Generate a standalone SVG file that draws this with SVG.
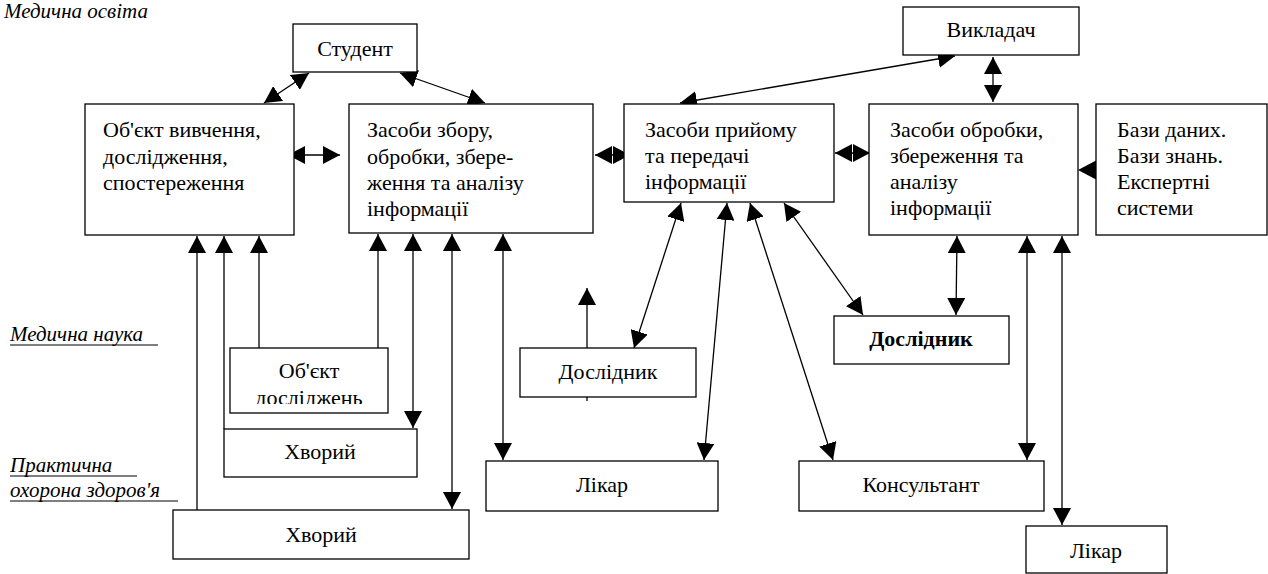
<svg xmlns="http://www.w3.org/2000/svg" width="1268" height="574" viewBox="0 0 1268 574">
  <style>
    .box { fill: #fff; stroke: #000; stroke-width: 1.3; }
    .t { font-size: 22px; fill: #000; }
    .c { text-anchor: middle; }
    .b { font-weight: bold; }
    .lbl { font-size: 21px; font-style: italic; fill: #000; }
    .ul { stroke: #000; stroke-width: 1.2; }
    .ln { fill: none; stroke: #000; stroke-width: 1.3; }
    .one { marker-end: url(#ah); }
    .two { marker-start: url(#ah); marker-end: url(#ah); }
  </style>
  <defs>
    <marker id="ah" viewBox="0 0 17 18" refX="17" refY="9" markerWidth="17" markerHeight="18" markerUnits="userSpaceOnUse" orient="auto-start-reverse">
      <path d="M0,0 L17,9 L0,18 z" fill="#000"/>
    </marker>
  </defs>
  <rect width="1268" height="574" fill="#fff"/>

  <!-- section labels, underlines drawn as rules -->
  <g id="labels">
    <text class="lbl" x="4" y="18" font-family="Liberation Serif">Медична освіта</text>
    <text class="lbl" x="10" y="341" font-family="Liberation Serif">Медична наука</text>
    <line class="ul" x1="10" y1="345" x2="158" y2="345"/>
    <text class="lbl" x="10" y="472" font-family="Liberation Serif">Практична</text>
    <line class="ul" x1="10" y1="476" x2="137" y2="476"/>
    <text class="lbl" x="10" y="497" font-family="Liberation Serif">охорона здоров'я</text>
    <line class="ul" x1="10" y1="501" x2="178" y2="501"/>
  </g>

  <!-- connectors -->
  <g id="connectors">
    <line class="ln two" x1="309" y1="73" x2="264" y2="103"/>
    <line class="ln two" x1="400" y1="73" x2="485" y2="103"/>
    <line class="ln two" x1="288" y1="155" x2="340" y2="155"/>
    <line class="ln two" x1="595" y1="155" x2="630" y2="155"/>
    <line class="ln two" x1="835" y1="153" x2="870" y2="153"/>
    <line class="ln two" x1="955" y1="56" x2="680" y2="103"/>
    <line class="ln two" x1="993" y1="57" x2="993" y2="102"/>
    <line class="ln" x1="1096" y1="170" x2="1088" y2="170"/>
    <path d="M1078,170 L1097,160 L1097,180 z" fill="#000"/>

    <line class="ln one" x1="197" y1="517" x2="197" y2="236"/>
    <line class="ln one" x1="224" y1="429" x2="224" y2="236"/>
    <line class="ln one" x1="259" y1="348" x2="259" y2="236"/>

    <line class="ln one" x1="378" y1="355" x2="378" y2="234"/>
    <line class="ln two" x1="413" y1="234" x2="413" y2="428"/>
    <line class="ln two" x1="452" y1="234" x2="452" y2="509"/>
    <line class="ln two" x1="503" y1="234" x2="503" y2="460"/>

    <line class="ln one" x1="587" y1="348" x2="587" y2="288"/>
    <line class="ln" x1="587" y1="397" x2="587" y2="401"/>

    <line class="ln two" x1="681" y1="203" x2="634" y2="348"/>
    <line class="ln two" x1="727" y1="203" x2="704" y2="460"/>
    <line class="ln two" x1="750" y1="203" x2="833" y2="460"/>
    <line class="ln two" x1="784" y1="203" x2="863" y2="315"/>

    <line class="ln two" x1="957" y1="236" x2="956" y2="315"/>
    <line class="ln two" x1="1027" y1="236" x2="1027" y2="460"/>
    <line class="ln two" x1="1062" y1="236" x2="1062" y2="525"/>
  </g>

  <!-- nodes -->
  <g id="student">
    <rect class="box" x="293" y="24" width="124" height="48"/>
    <text class="t c" x="355" y="56" font-family="Liberation Serif">Студент</text>
  </g>
  <g id="teacher">
    <rect class="box" x="903" y="7" width="176" height="48"/>
    <text class="t c" x="991" y="37" font-family="Liberation Serif">Викладач</text>
  </g>
  <g id="object-study">
    <rect class="box" x="85" y="104" width="209" height="131"/>
    <text class="t" x="103" y="137" font-family="Liberation Serif">Об'єкт вивчення,</text>
    <text class="t" x="103" y="164" font-family="Liberation Serif">дослідження,</text>
    <text class="t" x="103" y="190" font-family="Liberation Serif">спостереження</text>
  </g>
  <g id="collect">
    <rect class="box" x="349" y="104" width="244" height="129"/>
    <text class="t" x="367" y="137" font-family="Liberation Serif">Засоби збору,</text>
    <text class="t" x="367" y="164" font-family="Liberation Serif">обробки, збере-</text>
    <text class="t" x="367" y="190" font-family="Liberation Serif">ження та аналізу</text>
    <text class="t" x="367" y="216" font-family="Liberation Serif">інформації</text>
  </g>
  <g id="transfer">
    <rect class="box" x="624" y="104" width="210" height="98"/>
    <text class="t" x="645" y="137" font-family="Liberation Serif">Засоби прийому</text>
    <text class="t" x="645" y="163" font-family="Liberation Serif">та передачі</text>
    <text class="t" x="645" y="189" font-family="Liberation Serif">інформації</text>
  </g>
  <g id="process">
    <rect class="box" x="869" y="104" width="209" height="131"/>
    <text class="t" x="890" y="137" font-family="Liberation Serif">Засоби обробки,</text>
    <text class="t" x="890" y="163" font-family="Liberation Serif">збереження та</text>
    <text class="t" x="890" y="189" font-family="Liberation Serif">аналізу</text>
    <text class="t" x="890" y="215" font-family="Liberation Serif">інформації</text>
  </g>
  <g id="databases">
    <rect class="box" x="1096" y="104" width="171" height="131"/>
    <text class="t" x="1117" y="137" font-family="Liberation Serif">Бази даних.</text>
    <text class="t" x="1117" y="163" font-family="Liberation Serif">Бази знань.</text>
    <text class="t" x="1117" y="189" font-family="Liberation Serif">Експертні</text>
    <text class="t" x="1117" y="215" font-family="Liberation Serif">системи</text>
  </g>
  <g id="object-research">
    <rect class="box" x="230" y="348" width="158" height="65"/>
    <!-- inner viewport cuts the second line at its baseline -->
    <svg x="230" y="348" width="158" height="56" overflow="hidden">
      <text class="t c" x="79" y="30" font-family="Liberation Serif">Об'єкт</text>
      <text class="t c" x="79" y="57" font-family="Liberation Serif">досліджень</text>
    </svg>
  </g>
  <g id="patient-1">
    <rect class="box" x="224" y="429" width="193" height="48"/>
    <text class="t c" x="320" y="459" font-family="Liberation Serif">Хворий</text>
  </g>
  <g id="patient-2">
    <rect class="box" x="173" y="510" width="296" height="49"/>
    <text class="t c" x="321" y="542" font-family="Liberation Serif">Хворий</text>
  </g>
  <g id="researcher-1">
    <rect class="box" x="520" y="348" width="176" height="49"/>
    <text class="t c" x="608" y="379" font-family="Liberation Serif">Дослідник</text>
  </g>
  <g id="doctor-1">
    <rect class="box" x="486" y="461" width="232" height="50"/>
    <text class="t c" x="602" y="492" font-family="Liberation Serif">Лікар</text>
  </g>
  <g id="researcher-2">
    <rect class="box" x="834" y="316" width="175" height="48"/>
    <text class="t c b" x="921" y="346" font-family="Liberation Serif">Дослідник</text>
  </g>
  <g id="consultant">
    <rect class="box" x="799" y="461" width="245" height="50"/>
    <text class="t c" x="921" y="492" font-family="Liberation Serif">Консультант</text>
  </g>
  <g id="doctor-2">
    <rect class="box" x="1026" y="526" width="141" height="47"/>
    <text class="t c" x="1096" y="558" font-family="Liberation Serif">Лікар</text>
  </g>
</svg>
